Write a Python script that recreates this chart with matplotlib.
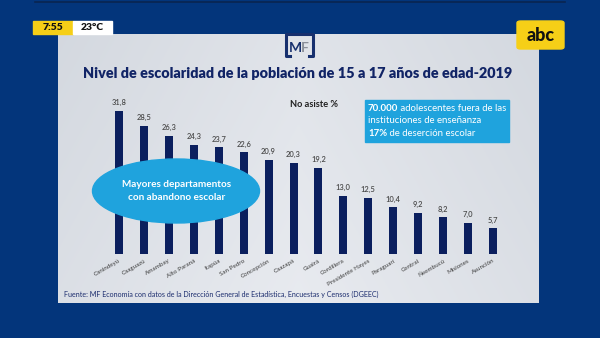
import numpy as np
import matplotlib.pyplot as plt
from matplotlib.patches import Rectangle, Ellipse, FancyBboxPatch

# datos: % que no asiste (15 a 17 años, 2019)
departamentos = ['Canindeyú', 'Caaguazú', 'Amambay', 'Alto Paraná', 'Itapúa',
                 'San Pedro', 'Concepción', 'Caazapá', 'Guairá', 'Cordillera',
                 'Presidente Hayes', 'Paraguarí', 'Central', 'Ñeembucú',
                 'Misiones', 'Asunción']
no_asiste = [31.8, 28.5, 26.3, 24.3, 23.7, 22.6, 20.9, 20.3, 19.2, 13.0,
             12.5, 10.4, 9.2, 8.2, 7.0, 5.7]

titulo = 'Nivel de escolaridad de la población de 15 a 17 años de edad-2019'
fuente = ('Fuente: MF Economía con datos de la Dirección General de Estadística, '
          'Encuestas y Censos (DGEEC)')
cuadro = [[('70.000', 'bold'), (' adolescentes fuera de las', 'normal')],
          [('instituciones de enseñanza', 'normal')],
          [('17%', 'bold'), (' de deserción escolar', 'normal')]]

W, H = 600, 338
NAVY_BG = '#03357b'
BAR = '#0b1f5e'
CYAN = '#1fa3dd'

plt.rcParams['font.family'] = ['Lato', 'DejaVu Sans']

fig = plt.figure(figsize=(W / 100, H / 100), dpi=100)
fig.patch.set_facecolor(NAVY_BG)


def fx(px):
    return px / W


def fy(py):
    return 1 - py / H


def rect(x0, y0, x1, y1, **kw):
    r = Rectangle((fx(x0), fy(y1)), fx(x1 - x0), (y1 - y0) / H,
                  transform=fig.transFigure, **kw)
    fig.patches.append(r)
    return r


# panel gris claro con degradado suave
bg = fig.add_axes([fx(58), fy(303), fx(539 - 58), (303 - 34) / H])
g = np.linspace(0, 1, 300)
gx, gy = np.meshgrid(g, g)
t = np.clip(1 - np.abs(gx - 0.5) * 1.4, 0, 1) * 0.7 + gy * 0.3
c0 = np.array([0.81, 0.83, 0.86])
c1 = np.array([0.91, 0.92, 0.94])
img = c0 + (c1 - c0) * t[..., None]
bg.imshow(img, aspect='auto', extent=[0, 1, 0, 1])
bg.axis('off')

# línea superior
fig.add_artist(plt.Line2D([fx(35), fx(565)], [fy(1.5), fy(1.5)], color='#0a2550',
                          lw=1.2, transform=fig.transFigure))

# reloj / temperatura
rect(33, 21, 73, 34, color='#f6cf17', zorder=5)
rect(73, 21, 112, 34, color='white', zorder=5)
fig.text(fx(53), fy(27.5), '7:55', ha='center', va='center', fontsize=7.5,
         fontweight='heavy', color='#111111', zorder=6)
fig.text(fx(92.5), fy(27.5), '23°C', ha='center', va='center', fontsize=7.5,
         fontweight='heavy', color='#111111', zorder=6)

# logo abc
logo = FancyBboxPatch((fx(517), fy(49)), fx(47), 28 / H,
                      boxstyle='round,pad=0,rounding_size=0.006',
                      transform=fig.transFigure, color='#f6cf17', zorder=5)
fig.patches.append(logo)
fig.text(fx(540.5), fy(35.5), 'abc', ha='center', va='center', fontsize=13,
         fontweight='black', color='#111111', zorder=6)

# logo MF
fig.add_artist(plt.Line2D([fx(290), fx(286), fx(286), fx(313), fx(313), fx(309)],
                          [fy(56), fy(56), fy(34), fy(34), fy(56), fy(56)],
                          color='#17306e', lw=2.2, transform=fig.transFigure))
fig.text(fx(295.5), fy(48), 'M', ha='center', va='center', fontsize=10,
         fontweight='bold', color='#17306e')
fig.text(fx(305), fy(48), 'F', ha='center', va='center', fontsize=10,
         fontweight='bold', color='#8a8f99')

# título
fig.text(fx(298), fy(73), titulo, ha='center', va='center', fontsize=10.4,
         fontweight='heavy', color='#112466')

# barras
n = len(departamentos)
sp = (493 - 119) / (n - 1)
x_left = 119 - sp / 2
y_bot = 254
ppu = 4.5
ymax = 35
ax = fig.add_axes([fx(x_left), fy(y_bot), fx(sp * n), ymax * ppu / H])
ax.set_facecolor('none')
x = np.arange(n)
ax.bar(x, no_asiste, width=0.32, color=BAR, zorder=2)
for xi, v in zip(x, no_asiste):
    ax.text(xi, v + 1.0, f'{v:.1f}'.replace('.', ','), ha='center', va='bottom',
            fontsize=5.4, fontweight='semibold', color='#4a4a4a')
ax.set_xlim(-0.5, n - 0.5)
ax.set_ylim(0, ymax)
ax.set_yticks([])
ax.set_xticks(x)
ax.set_xticklabels(departamentos, rotation=30, ha='right', rotation_mode='anchor',
                   fontsize=4.5, color='#3d3d3d')
ax.tick_params(axis='x', length=0, pad=3)
for s in ax.spines.values():
    s.set_visible(False)

# óvalo
ell = Ellipse((fx(176), fy(191)), fx(167), 64 / H, transform=fig.transFigure,
              color=CYAN, zorder=5)
fig.patches.append(ell)
fig.text(fx(177), fy(191), 'Mayores departamentos\ncon abandono escolar',
         ha='center', va='center', fontsize=7.2, fontweight='bold', color='white',
         linespacing=1.5, zorder=6)

# No asiste %
fig.text(fx(314), fy(105), 'No asiste %', ha='center', va='center', fontsize=6.7,
         fontweight='bold', color='#222222')

# cuadro celeste, texto en trozos negrita / normal
rect(365, 100, 509, 142, color=CYAN, zorder=5)
renderer = fig.canvas.get_renderer()
for i, linea in enumerate(cuadro):
    xpos = 368
    for txt, peso in linea:
        tt = fig.text(fx(xpos), fy(108 + 13 * i), txt, ha='left', va='center',
                      fontsize=6.9, fontweight=peso, color='white', zorder=6)
        xpos += tt.get_window_extent(renderer).width

# fuente
fig.text(fx(64), fy(294), fuente, ha='left', va='center', fontsize=5.1,
         color='#1c2d6e')

fig.savefig('out.png', dpi=100, facecolor=fig.get_facecolor())
